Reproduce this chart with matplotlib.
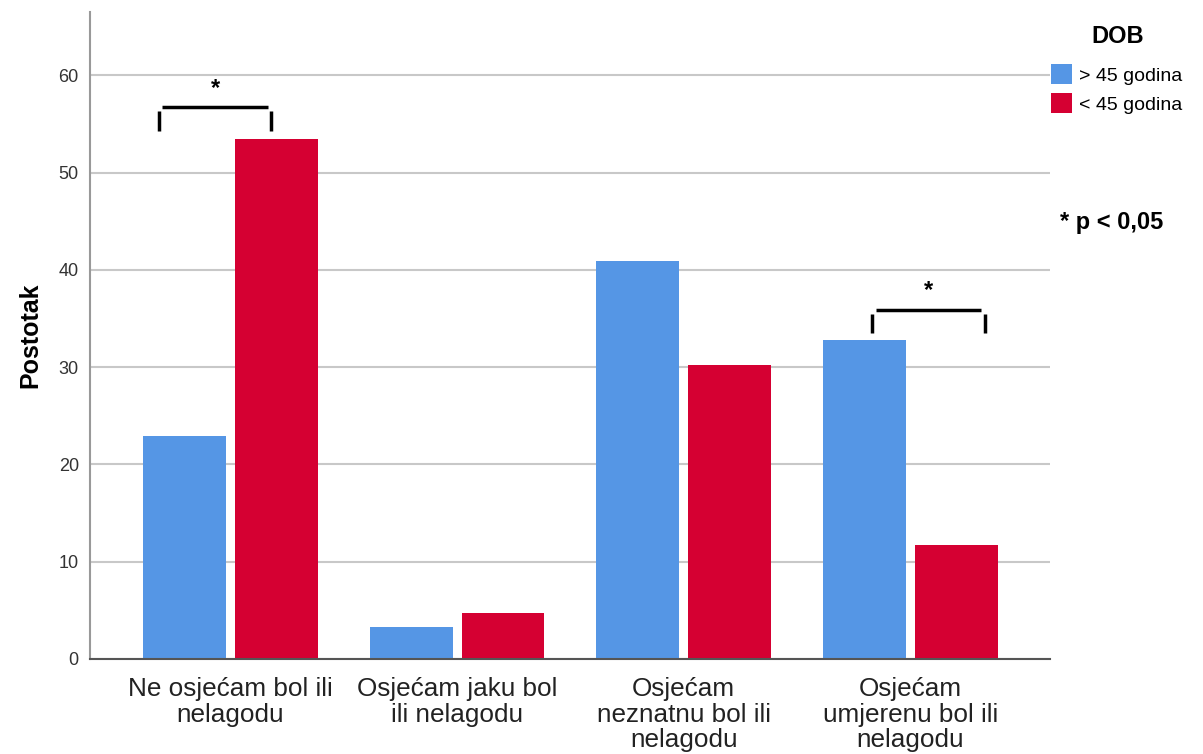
import numpy as np
import matplotlib.pyplot as plt
from matplotlib.patches import Patch

categories = [
    "Ne osjećam bol ili\nnelagodu",
    "Osjećam jaku bol\nili nelagodu",
    "Osjećam\nneznatnu bol ili\nnelagodu",
    "Osjećam\numjerenu bol ili\nnelagodu",
]
older = [22.9, 3.3, 40.9, 32.8]    # > 45 godina
younger = [53.5, 4.7, 30.2, 11.7]  # < 45 godina
series_labels = ["> 45 godina", "< 45 godina"]
colors = ["#5596E5", "#D50032"]

# significance brackets: group index, left/right offsets, line height
sig_groups = [0, 3]
sig_left = [-0.315, -0.168]
sig_right = [0.18, 0.328]
sig_height = [56.7, 35.9]

plt.rcParams.update({"font.family": ["Liberation Sans", "DejaVu Sans"]})

fig = plt.figure(figsize=(12.03, 7.54), dpi=100)
ax = fig.add_axes([0.0748, 0.126, 0.7982, 0.858])

x = np.arange(len(categories))
width = 0.366
gap = 0.04
off = (width + gap) / 2
ax.bar(x - off, older, width, color=colors[0], zorder=2)
ax.bar(x + off, younger, width, color=colors[1], zorder=2)

for g, l, r, h in zip(sig_groups, sig_left, sig_right, sig_height):
    ax.plot([g + l + 0.015, g + r - 0.015], [h, h], color="black", lw=2.5,
            solid_capstyle="butt", zorder=3)
    for xx in (g + l, g + r):
        ax.plot([xx, xx], [h - 0.4, h - 2.4], color="black", lw=2.5,
                solid_capstyle="butt", zorder=3)
    ax.text(g + (l + r) / 2, h + 0.8, "*", ha="center", va="bottom",
            fontsize=17, fontweight="bold")

ax.set_xlim(-0.62, 3.618)
ax.set_ylim(0, 66.5)
ax.set_yticks(range(0, 70, 10))
ax.set_xticks(x)
ax.set_xticklabels(categories, fontsize=18.8, color="#222222", linespacing=1.08)
ax.tick_params(axis="both", length=0)
ax.tick_params(axis="x", pad=13)
ax.tick_params(axis="y", labelsize=13, labelcolor="#333333", pad=8)
ax.yaxis.grid(True, color="#c8c8c8", lw=1.5, zorder=0)
ax.set_axisbelow(True)

for s in ("top", "right"):
    ax.spines[s].set_visible(False)
ax.spines["left"].set_color("#999999")
ax.spines["left"].set_linewidth(1.5)
ax.spines["bottom"].set_color("#555555")
ax.spines["bottom"].set_linewidth(1.5)

ax.set_ylabel("Postotak", fontsize=18, fontweight="bold", labelpad=12)

fig.text(0.929, 0.952, "DOB", fontsize=17, fontweight="bold",
         ha="center", va="center")
handles = [Patch(facecolor=c) for c in colors]
fig.legend(handles, series_labels, loc="upper left",
           bbox_to_anchor=(0.874, 0.915), frameon=False, fontsize=14,
           handlelength=1.05, handleheight=1.2,
           handletextpad=0.35, labelspacing=0.45, borderaxespad=0,
           borderpad=0)

fig.text(0.881, 0.705, "* p < 0,05", fontsize=17, fontweight="bold",
         va="center")

fig.savefig("out.png", dpi=100)
